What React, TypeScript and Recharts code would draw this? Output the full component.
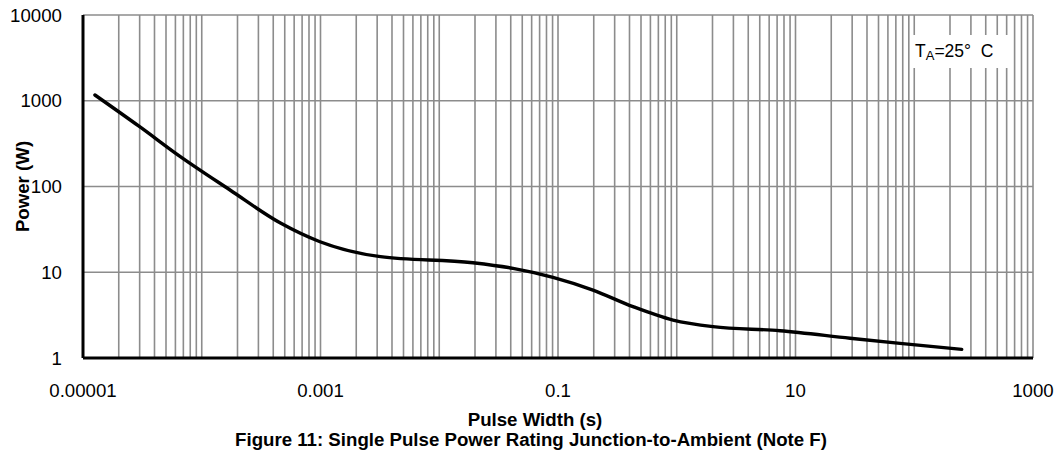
import { CartesianGrid, Label, Line, LineChart, XAxis, YAxis } from "recharts";

// single pulse power rating
const pulseWidth = [
  1.26e-5, 3.0e-5, 6.6e-5, 1.73e-4, 4.6e-4, 9.9e-4, 3.2e-3, 0.0192, 0.0418, 0.0907, 0.197, 0.428, 0.93,
  2.02, 7.4, 28.8, 75.9, 251,
];
const power = [1167, 498, 223, 91, 37.5, 22.7, 15.2, 12.9, 11.1, 8.73, 6.2, 3.97, 2.77, 2.32, 2.08, 1.7, 1.48, 1.26];

const xMajor = [1e-5, 1e-3, 0.1, 10, 1000];
const xLabels = ["0.00001", "0.001", "0.1", "10", "1000"];
const decades = [1e-5, 1e-4, 1e-3, 1e-2, 0.1, 1, 10, 100];
const minorSteps = [1, 2, 3, 4, 5, 6, 7, 8, 9];
const yTicks = [1, 10, 100, 1000, 10000];
const yLabels = ["1", "10", "100", "1000", "10000"];

const xTicks = [
  ...decades.flatMap((d) => minorSteps.map((m) => Number((m * d).toPrecision(3)))),
  1000,
];

const data = pulseWidth.map((w, i) => ({ width: w, power: power[i] }));

const near = (a: number, b: number) => Math.abs(Math.log10(a) - Math.log10(b)) < 1e-6;

const fmtX = (v: number) => {
  const i = xMajor.findIndex((m) => near(v, m));
  return i >= 0 ? xLabels[i] : "";
};
const fmtY = (v: number) => {
  const i = yTicks.findIndex((m) => near(v, m));
  return i >= 0 ? yLabels[i] : "";
};

const FONT = '"Liberation Sans", Arial, Helvetica, sans-serif';
const GRID = "#8c8c8c";

export default function App() {
  return (
    <div
      style={{
        position: "absolute",
        left: 0,
        top: 0,
        width: 1062,
        height: 455,
        background: "#fff",
        fontFamily: FONT,
      }}
    >
      <LineChart width={1062} height={455} data={data} margin={{ top: 15, right: 29, bottom: 0, left: 0 }}>
        <CartesianGrid stroke={GRID} strokeWidth={1.6} />
        <XAxis
          dataKey="width"
          type="number"
          scale="log"
          domain={[1e-5, 1000]}
          ticks={xTicks}
          interval={0}
          tickFormatter={fmtX}
          height={97}
          tickLine={false}
          tickSize={0}
          tickMargin={26}
          axisLine={{ stroke: "#000", strokeWidth: 3 }}
          tick={{ fill: "#000", fontSize: 18.67 }}
        />
        <YAxis
          type="number"
          scale="log"
          domain={[1, 10000]}
          ticks={yTicks}
          interval={0}
          tickFormatter={fmtY}
          width={83}
          tickLine={false}
          tickSize={0}
          tickMargin={21}
          axisLine={{ stroke: "#000", strokeWidth: 3 }}
          tick={{ fill: "#000", fontSize: 18.67 }}
        >
          <Label
            value="Power (W)"
            angle={-90}
            position="insideLeft"
            offset={22}
            style={{ textAnchor: "middle", fontWeight: "bold", fontSize: 18.67, fill: "#000" }}
          />
        </YAxis>
        <Line
          type="monotone"
          dataKey="power"
          stroke="#000"
          strokeWidth={3.4}
          strokeLinecap="round"
          dot={false}
          activeDot={false}
          isAnimationActive={false}
        />
      </LineChart>

      <div
        style={{
          position: "absolute",
          left: 910,
          top: 35,
          width: 100,
          height: 33,
          background: "#fff",
          fontSize: 17.5,
          lineHeight: "33px",
          paddingLeft: 5,
          boxSizing: "border-box",
          whiteSpace: "pre",
        }}
      >
        T<span style={{ fontSize: 13, position: "relative", top: 3 }}>A</span>=25°  C
      </div>

      <div
        style={{
          position: "absolute",
          left: 4,
          top: 411,
          width: 1062,
          textAlign: "center",
          fontSize: 18.67,
          lineHeight: "18.67px",
          fontWeight: "bold",
        }}
      >
        Pulse Width (s)
      </div>
      <div
        style={{
          position: "absolute",
          left: 0,
          top: 431,
          width: 1062,
          textAlign: "center",
          fontSize: 18.67,
          lineHeight: "18.67px",
          fontWeight: "bold",
        }}
      >
        Figure 11: Single Pulse Power Rating Junction-to-Ambient (Note F)
      </div>
    </div>
  );
}
